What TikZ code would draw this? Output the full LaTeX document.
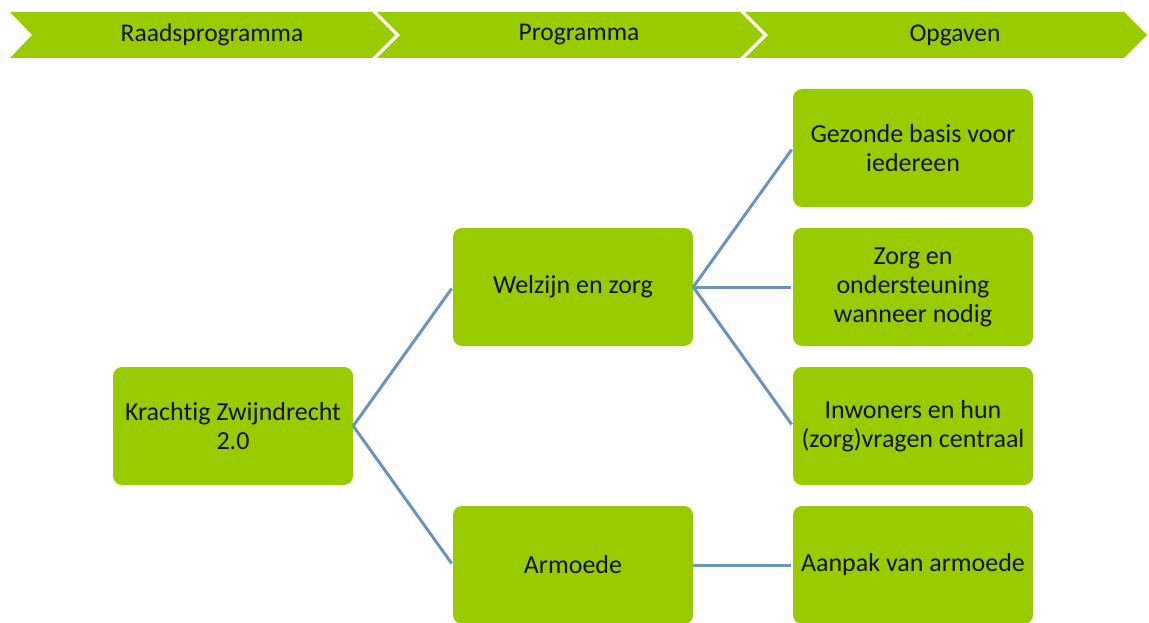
\documentclass[tikz,border=0pt]{standalone}
\usepackage{fontspec}
\setmainfont[Ligatures=NoCommon]{Carlito}
\definecolor{kgreen}{HTML}{99CC00}
\definecolor{klink}{HTML}{6A93BF}
\definecolor{ktext}{HTML}{141414}
\begin{document}
\begin{tikzpicture}[x=1pt, y=-1pt,
    box/.style={fill=kgreen, rounded corners=9pt, minimum width=240pt, minimum height=118pt, align=center, inner sep=0pt, text=ktext, font=\fontsize{26}{29}\selectfont},
    head/.style={text=ktext, font=\fontsize{25.5}{28}\selectfont},
    link/.style={draw=klink, line width=3pt, shorten >=2pt}]
    \useasboundingbox (0,0) rectangle (1149,623);

    \fill[kgreen] (10,12) -- (372,12) -- (395,35) -- (372,58) -- (10,58) -- (32,35) -- cycle;
    \fill[kgreen] (377,12) -- (740,12) -- (763,35) -- (740,58) -- (377,58) -- (400,35) -- cycle;
    \fill[kgreen] (745,12) -- (1124,12) -- (1147,35) -- (1124,58) -- (745,58) -- (768,35) -- cycle;
    \node[head] (raad) at (212,35) {Raadsprogramma};
    \node[head] (prog) at (579,35) {Programma};
    \node[head] (opg) at (955,35) {Opgaven};

    \node[box] (krachtig) at (233,426) {Krachtig Zwijndrecht\\2.0};
    \node[box] (welzijn) at (573,287) {Welzijn en zorg};
    \node[box] (armoede) at (573,565) {Armoede};
    \node[box] (gezond) at (913,148) {Gezonde basis voor\\iedereen};
    \node[box] (zorg) at (913,287) {Zorg en\\ondersteuning\\wanneer nodig};
    \node[box] (inwoners) at (913,426) {Inwoners en hun\\(zorg)vragen centraal};
    \node[box] (aanpak) at (913,565) {Aanpak van armoede};

    \draw[link] (krachtig.east) -- (welzijn.west);
    \draw[link] (krachtig.east) -- (armoede.west);
    \draw[link] (welzijn.east) -- (gezond.west);
    \draw[link] (welzijn.east) -- (zorg.west);
    \draw[link] (welzijn.east) -- (inwoners.west);
    \draw[link] (armoede.east) -- (aanpak.west);
\end{tikzpicture}
\end{document}
